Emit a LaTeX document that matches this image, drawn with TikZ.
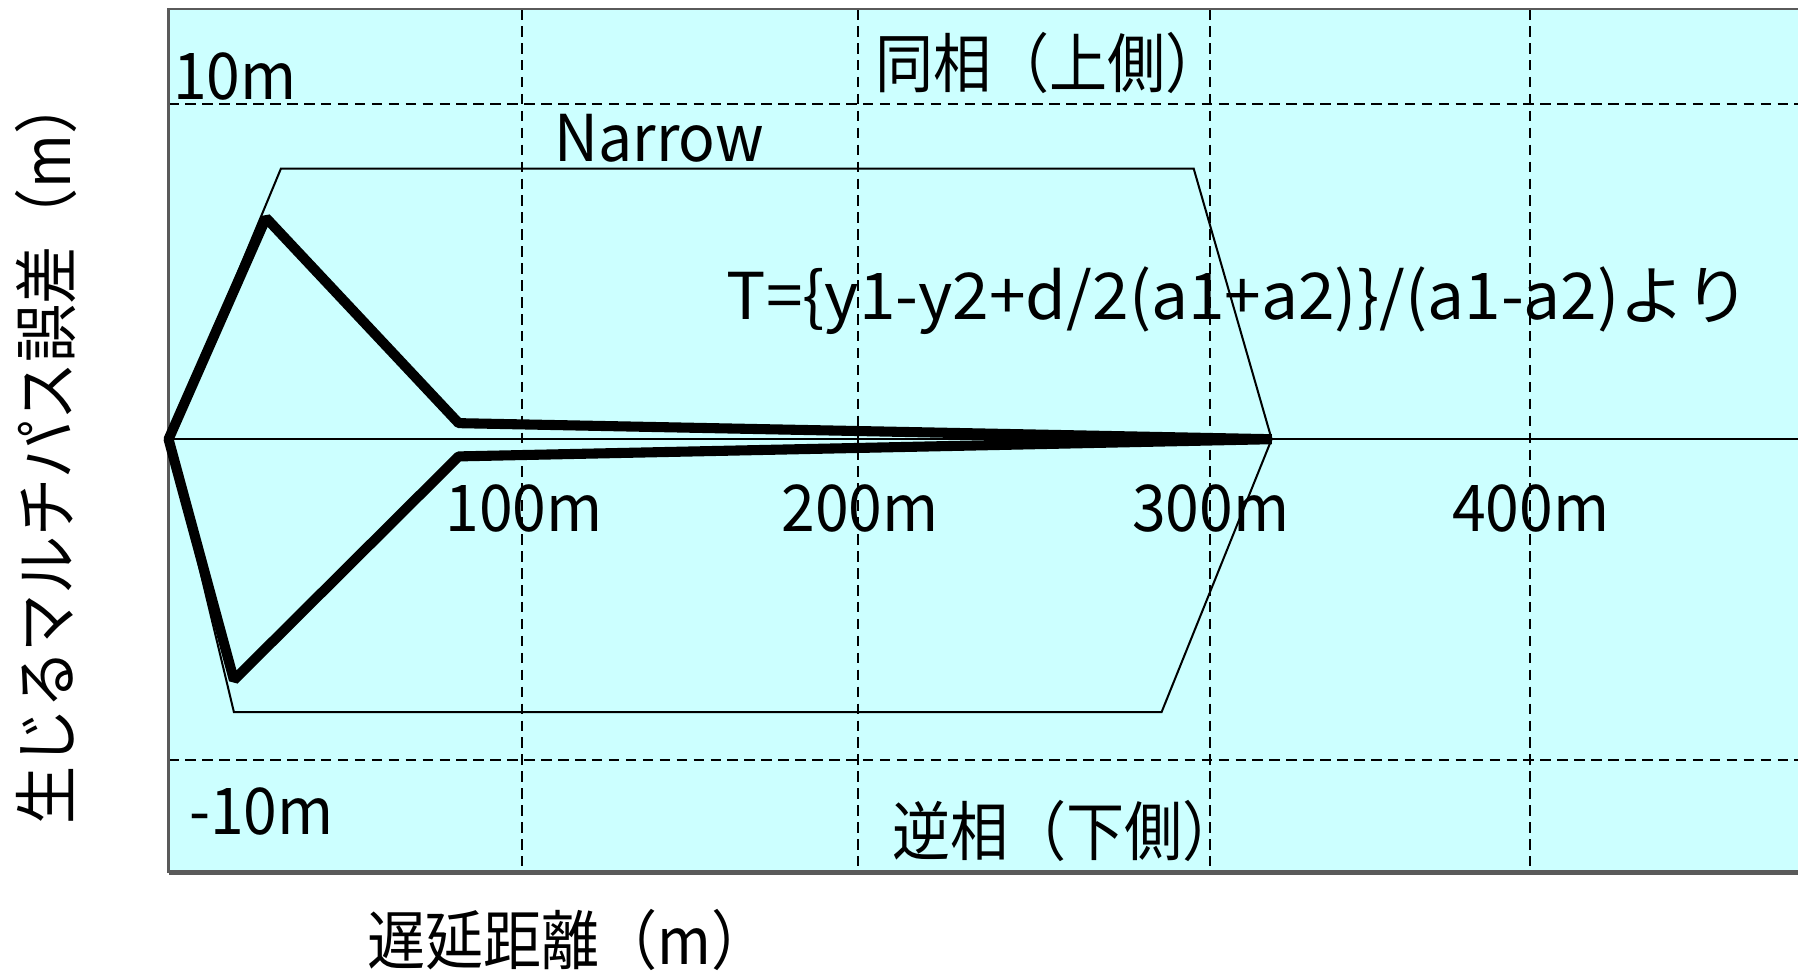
\documentclass[tikz,border=0pt]{standalone}
\usepackage{fontspec}
\setmainfont[FakeStretch=0.94]{Noto Sans CJK JP}
\newfontfamily\jpfont[FakeStretch=0.9]{Noto Sans CJK JP}
\newfontfamily\formulafont[FakeStretch=1.02]{Noto Sans CJK JP}
\usetikzlibrary{calc,positioning}
\definecolor{paleCyan}{RGB}{204,255,255}
\definecolor{frameGray}{RGB}{90,90,90}

\begin{document}
\begin{tikzpicture}[x=0.01cm,y=-0.01cm,
		lbl/.style={font=\fontsize{16}{18}\selectfont, inner sep=0pt},
		jplbl/.style={font=\jpfont\fontsize{16}{18}\selectfont, inner sep=0pt},
		gridline/.style={black, line width=0.5pt, dash pattern=on 2.6pt off 1.6pt},
		outline/.style={black, line width=0.5pt, line join=miter},
		pathline/.style={black, line width=2.5pt, line join=bevel}]
		
		\useasboundingbox (0,0) rectangle (1568,847);
		
		
		\fill[paleCyan] (147,8) rectangle (1568,761);
		
		
		\foreach \gx in {455,748,1055,1334}
			\draw[gridline] (\gx,8) -- (\gx,761);
		\foreach \gy in {91,663}
			\draw[gridline] (147,\gy) -- (1568,\gy);
		
		
		\draw[frameGray, line width=0.6pt] (1568,8) -- (147,8) -- (147,761);
		\draw[frameGray, line width=1.2pt] (147,761) -- (1568,761);
		\draw[black, line width=0.5pt] (147,383) -- (1568,383);
		
		
		\draw[outline] (147,383) -- (245,147) -- (1041,147) -- (1109,383) -- (1013,621) -- (204,621) -- cycle;
		
		
		\draw[pathline] (147,383) -- (232,190) -- (400,369) -- (1109,383) -- (400,398) -- (204,593) -- cycle;
		
		
		\node[lbl] (upTen) at (205,67) {10m};
		\node[lbl] (downTen) at (228,708) {-10m};
		\node[jplbl] (inPhase) at (915,55) {同相（上側）};
		\node[jplbl] (antiPhase) at (930,725) {逆相（下側）};
		\node[lbl] (narrow) at (575,121) {Narrow};
		\node[lbl, font=\formulafont\fontsize{16}{18}\selectfont] (formula) at (1080,262) {T=\{y1-y2+d/2(a1+a2)\}/(a1-a2)より};
		
		\foreach \d/\x in {100/457,200/750,300/1056,400/1335}
			\node[lbl] (tick\d) at (\x,443) {\d m};
		
		
		\node[jplbl] (xLabel) at (496,820) {遅延距離（m）};
		\node[jplbl, rotate=90] (yLabel) at (40,393) {生じるマルチパス誤差（m）};
		
	\end{tikzpicture}
\end{document}
